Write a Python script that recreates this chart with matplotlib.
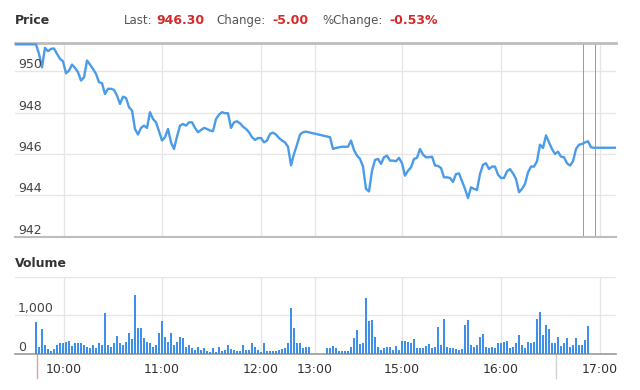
import matplotlib.pyplot as plt
import numpy as np
from matplotlib.transforms import blended_transform_factory

# x axis is a bar slot index (one volume bar per slot), not clock time
prev_close = 951.30
last = 946.30

price_am_start = 0
price_am = [
    951.3, 951.3, 951.3, 951.3, 951.3, 951.3, 951.3, 951.3,
    950.84, 950.19, 951.13, 950.97, 951.08, 951.10, 950.84, 950.60, 950.48, 949.90,
    950.03, 950.32, 950.16, 949.95, 949.55, 949.70, 950.52, 950.32, 950.11, 949.87,
    949.47, 949.42, 948.90, 949.15, 949.15, 949.10, 948.82, 948.42, 948.77, 948.71,
    948.26, 948.10, 947.20, 946.94, 947.26, 947.37, 947.26, 948.02, 947.69, 947.53,
    947.10, 946.65, 946.81, 947.21, 946.56, 946.24, 946.84, 947.37, 947.45, 947.37,
    947.53, 947.53, 947.26, 947.05, 947.16, 947.26, 947.21, 947.13, 947.10, 947.69,
    947.90, 948.02, 947.97, 947.97, 947.26, 947.53, 947.58, 947.48, 947.32, 947.21,
    947.05, 946.81, 946.68, 946.77, 946.77, 946.56, 946.65, 946.97, 947.03, 946.94,
    946.77, 946.65, 946.56, 946.35, 945.45, 946.00, 946.45, 946.94, 947.05, 947.08,
]

price_pm_start = 105
price_pm = [
    946.81, 946.24, 946.29, 946.32, 946.35, 946.35, 946.35, 946.65, 946.19, 945.92,
    945.76, 945.39, 944.31, 944.19, 945.19, 945.71, 945.76, 945.52, 945.84, 945.92,
    945.68, 945.68, 945.65, 945.81, 945.55, 944.95, 945.19, 945.35, 945.76, 945.81,
    946.24, 945.97, 945.84, 945.84, 945.87, 945.44, 945.42, 945.32, 944.87, 944.87,
    944.84, 944.65, 945.03, 945.06, 944.68, 944.31, 943.87, 944.39, 944.31, 944.26,
    945.03, 945.48, 945.55, 945.27, 945.39, 945.39, 945.00, 944.84, 944.84, 945.16,
    945.27, 945.06, 944.79, 944.15, 944.31, 944.55, 945.11, 945.39, 945.39, 945.65,
    946.45, 946.29, 946.90, 946.56, 946.24, 946.00, 946.11, 945.87, 945.84, 945.55,
    945.44, 945.65, 946.24, 946.45, 946.48, 946.56, 946.61, 946.32,
    946.30, 946.30, 946.30, 946.30, 946.30, 946.30, 946.30, 946.30, 946.30,
]

vol_am_start = 7
vol_am = [
    835, 180, 635, 225, 115, 80, 115, 225, 270, 270, 315, 340, 200, 270, 270, 270,
    225, 180, 140, 225, 140, 270, 225, 1050, 225, 180, 270, 460, 270, 225, 315, 530,
    375, 1515, 660, 660, 400, 315, 270, 180, 225, 530, 860, 445, 315, 530, 225, 315,
    425, 400, 180, 225, 140, 95, 180, 95, 140, 80, 50, 140, 50, 180, 80, 95,
    225, 115, 95, 80, 70, 225, 95, 95, 285, 180, 95, 50, 270, 80, 80, 70,
    80, 95, 115, 140, 285, 1200, 660, 270, 270, 140, 180, 180,
]

vol_pm_start = 104
vol_pm = [
    140, 140, 200, 140, 80, 80, 70, 70, 180, 400, 620, 250, 285, 1445, 860, 880,
    445, 180, 95, 140, 180, 180, 95, 200, 95, 340, 340, 315, 285, 375, 140, 140,
    140, 200, 250, 140, 180, 705, 225, 905, 180, 140, 140, 115, 95, 130, 750, 880,
    225, 180, 225, 425, 505, 180, 155, 180, 140, 285, 270, 315, 330, 140, 180, 270,
    490, 225, 140, 315, 270, 315, 895, 1095, 490, 750, 635, 270, 270, 445, 200, 270,
    400, 180, 225, 400, 225, 225, 355, 730,
]

tick_slots = [16.3, 49, 82, 100, 129, 162, 195]
tick_labels = ["10:00", "11:00", "12:00", "13:00", "15:00", "16:00", "17:00"]
price_levels = [942, 944, 946, 948, 950]
volume_levels = [0, 1000]
session_marks = [189.3, 193.3]

W, H = 640, 390
line_blue = "#4a9be8"
bar_blue = "#3d8fe8"
grid_c = "#e6e6e6"
text_c = "#444444"


def box(left, top, right, bottom):
    return [left / W, 1 - bottom / H, (right - left) / W, (bottom - top) / H]


fig = plt.figure(figsize=(6.4, 3.9), dpi=100)
ax_p = fig.add_axes(box(15, 43.3, 616, 236.7))
ax_v = fig.add_axes(box(15, 276.7, 616, 353.7))

x_price = np.concatenate([
    price_am_start + np.arange(len(price_am)),
    price_pm_start + np.arange(len(price_pm)),
])
y_price = np.array(price_am + price_pm)

x_vol = np.concatenate([
    vol_am_start + np.arange(len(vol_am)),
    vol_pm_start + np.arange(len(vol_pm)),
])
y_vol = np.array(vol_am + vol_pm)

# %% price panel
ax_p.plot(x_price, y_price, color=line_blue, lw=1.7, solid_joinstyle="round", zorder=3)
ax_p.set_xlim(0, 200.33)
ax_p.set_ylim(942, 951.35)
ax_p.set_xticks(tick_slots)
ax_p.set_yticks(price_levels[1:])
ax_p.tick_params(left=False, labelleft=False, bottom=False, labelbottom=False)
ax_p.grid(color=grid_c, lw=1)
ax_p.set_axisbelow(True)
for s in ["left", "right"]:
    ax_p.spines[s].set_visible(False)
ax_p.spines["top"].set_color("#bdbdbd")
ax_p.spines["top"].set_linewidth(2)
ax_p.spines["bottom"].set_color("#bdbdbd")
ax_p.spines["bottom"].set_linewidth(1.5)
for s in session_marks:
    ax_p.axvline(s, color="#c98585", lw=0.7, zorder=2)

tr = blended_transform_factory(ax_p.transAxes, ax_p.transData)
for lv in price_levels:
    ax_p.text(3 / 601, lv, f"{lv}", transform=tr, va="bottom", ha="left",
              fontsize=9, color=text_c, zorder=4)

# %% volume panel
ax_v.bar(x_vol, y_vol, width=0.9, color=bar_blue, lw=0, zorder=3)
ax_v.set_xlim(0, 200.33)
ax_v.set_ylim(0, 2000)
ax_v.set_yticks([1000, 2000])
ax_v.set_xticks(tick_slots, tick_labels)
ax_v.tick_params(left=False, labelleft=False, length=0, pad=7,
                 labelsize=9, labelcolor="#333333")
ax_v.grid(color=grid_c, lw=1)
ax_v.set_axisbelow(True)
for s in ["left", "right", "top"]:
    ax_v.spines[s].set_visible(False)
ax_v.spines["bottom"].set_color("#9a9a9a")
ax_v.spines["bottom"].set_linewidth(1.2)
ax_v.axvline(7.3, ymin=-0.31, ymax=0, color="#e6a0a0", lw=1, clip_on=False)
ax_v.axvline(180.3, ymin=-0.31, ymax=0, color="#d0d0d0", lw=1, clip_on=False)

tr = blended_transform_factory(ax_v.transAxes, ax_v.transData)
for lv in volume_levels:
    ax_v.text(3 / 601, lv, f"{lv:,}", transform=tr, va="bottom", ha="left",
              fontsize=9, color=text_c, zorder=4)

# %% headers
change = last - prev_close
pct = change / prev_close * 100

fig.text(15 / W, 1 - 24 / H, "Price", fontsize=9, weight="bold", color="#333333", va="baseline")
fig.text(15 / W, 1 - 267 / H, "Volume", fontsize=9, weight="bold", color="#333333", va="baseline")

header = [
    (123.6, "Last:", False),
    (156.8, f"{last:.2f}", True),
    (216.6, "Change:", False),
    (272.6, f"{change:.2f}", True),
    (322.8, "%Change:", False),
    (389.2, f"{pct:.2f}%", True),
]
for xpos, txt, is_value in header:
    fig.text(xpos / W, 1 - 24 / H, txt, va="baseline", ha="left",
             fontsize=9 if is_value else 8.5,
             weight="bold" if is_value else "normal",
             color="#d42a2a" if is_value else "#555555")

fig.savefig("out.png", dpi=100)
